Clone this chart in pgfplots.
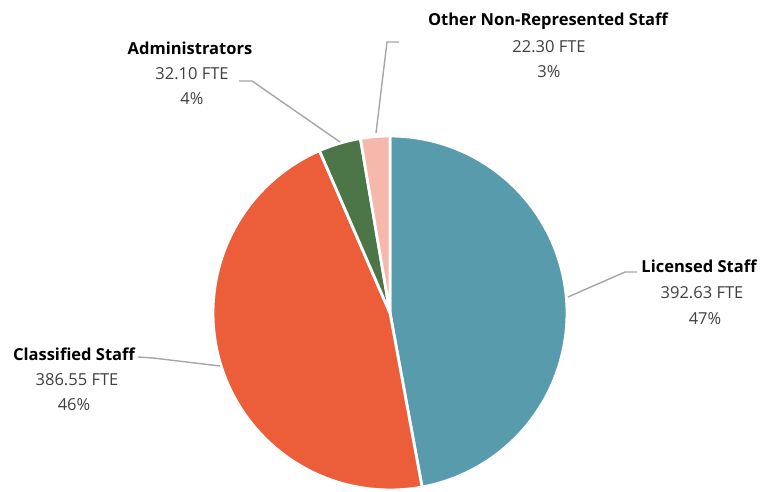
\documentclass[border=0pt]{standalone}
\usepackage{pgfplots}
\pgfplotsset{compat=1.18}
\usepackage{fontspec}
\setmainfont{Open Sans}
\definecolor{cLic}{HTML}{579BAD}
\definecolor{cCla}{HTML}{EC5D3A}
\definecolor{cAdm}{HTML}{4C7648}
\definecolor{cOth}{HTML}{F5B8AA}
\definecolor{cLine}{HTML}{A6A6A6}
\definecolor{cTxt}{HTML}{404040}
% FTE values
\pgfmathsetmacro{\vLic}{392.63}
\pgfmathsetmacro{\vCla}{386.55}
\pgfmathsetmacro{\vAdm}{32.10}
\pgfmathsetmacro{\vOth}{22.30}
\pgfmathsetmacro{\vTot}{\vLic+\vCla+\vAdm+\vOth}
\pgfmathsetmacro{\aA}{90}
\pgfmathsetmacro{\aB}{\aA-360*(\vLic/\vTot)}
\pgfmathsetmacro{\aC}{\aB-360*(\vCla/\vTot)}
\pgfmathsetmacro{\aD}{\aC-360*(\vAdm/\vTot)}
\pgfmathsetmacro{\aE}{\aD-360*(\vOth/\vTot)}
\newcommand{\cx}{390}
\newcommand{\cy}{178}
\newcommand{\R}{177}
\tikzset{ttl/.style={font=\fontsize{16.5}{17}\selectfont\bfseries,anchor=base},
         num/.style={font=\fontsize{16.5}{17}\selectfont,text=cTxt,anchor=base}}
\begin{document}
\begin{tikzpicture}
\begin{axis}[x=1pt,y=1pt,xmin=0,xmax=761,ymin=0,ymax=491,hide axis,clip=false,
  scale only axis]
\path (axis cs:0,0) rectangle (axis cs:761,491);
\addplot[fill=cLic,draw=white,line width=2.8pt,domain=\aB:\aA,samples=80]
  ({\cx+\R*cos(x)},{\cy+\R*sin(x)}) -- (axis cs:\cx,\cy) -- cycle;
\addplot[fill=cCla,draw=white,line width=2.8pt,domain=\aC:\aB,samples=80]
  ({\cx+\R*cos(x)},{\cy+\R*sin(x)}) -- (axis cs:\cx,\cy) -- cycle;
\addplot[fill=cAdm,draw=white,line width=2.8pt,domain=\aD:\aC,samples=20]
  ({\cx+\R*cos(x)},{\cy+\R*sin(x)}) -- (axis cs:\cx,\cy) -- cycle;
\addplot[fill=cOth,draw=white,line width=2.8pt,domain=\aE:\aD,samples=20]
  ({\cx+\R*cos(x)},{\cy+\R*sin(x)}) -- (axis cs:\cx,\cy) -- cycle;
% leader lines
\addplot[cLine,line width=1.4pt] coordinates {(568,194) (625,219) (637,219)};
\addplot[cLine,line width=1.4pt] coordinates {(220,125) (153,133) (138,134)};
\addplot[cLine,line width=1.4pt] coordinates {(340,349) (252,410) (239,410)};
\addplot[cLine,line width=1.4pt] coordinates {(376,358) (387,449) (399,449)};
% labels
\node[ttl] at (axis cs:699,218) {Licensed Staff};
\node[num] at (axis cs:702,192) {392.63 FTE};
\node[num] at (axis cs:705,166) {47\%};
\node[ttl] at (axis cs:74,130) {Classified Staff};
\node[num] at (axis cs:77,105) {386.55 FTE};
\node[num] at (axis cs:74,80) {46\%};
\node[ttl] at (axis cs:190,436) {Administrators};
\node[num] at (axis cs:192,411) {32.10 FTE};
\node[num] at (axis cs:192,386) {4\%};
\node[ttl] at (axis cs:548,465) {Other Non-Represented Staff};
\node[num] at (axis cs:549,438) {22.30 FTE};
\node[num] at (axis cs:549,413) {3\%};
\end{axis}
\end{tikzpicture}
\end{document}
